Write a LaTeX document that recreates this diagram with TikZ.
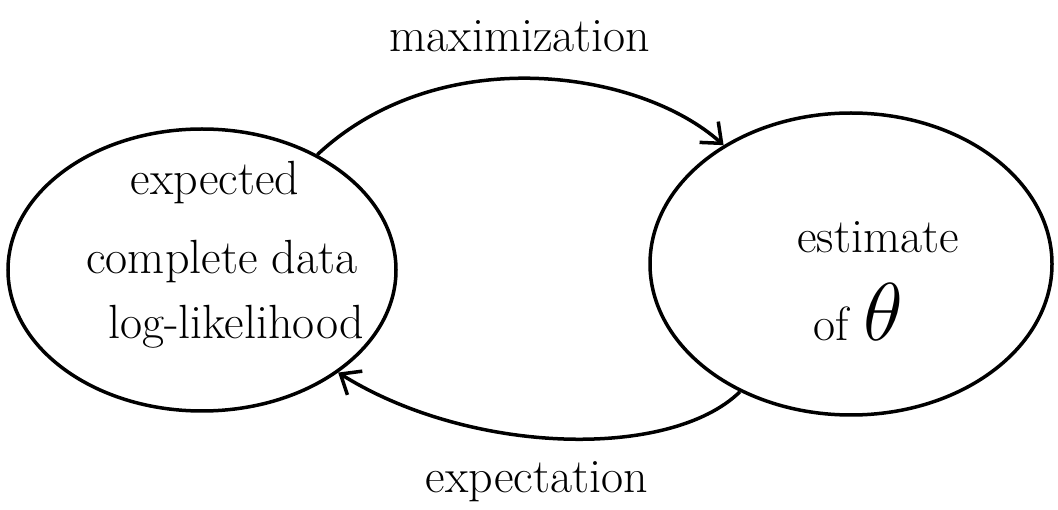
\documentclass[tikz,border=0pt]{standalone}
\usepackage{graphicx}
\usetikzlibrary{arrows.meta,shapes.geometric}
\begin{document}
\begin{tikzpicture}[x=1pt,y=-1pt,
  blob/.style={draw, ellipse, line width=3.5pt, inner sep=0pt},
  flow/.style={line width=3.5pt, -{Straight Barb[length=17pt,width=28pt,line width=3.5pt]}},
  lbl/.style={font=\fontsize{48}{54}\selectfont, inner sep=0pt, align=center}]
\useasboundingbox (0,0) rectangle (1058,510);
\node[blob, minimum width=388pt, minimum height=282pt] (L) at (202,270) {};
\node[blob, minimum width=402pt, minimum height=302pt] (R) at (851,264) {};
\node[lbl] (lt1) at (215,183) {expected};
\node[lbl] (lt2) at (222,262) {complete data};
\node[lbl] (lt3) at (236,327) {log-likelihood};
\node[lbl] (rt1) at (878,237) {estimate};
\node[lbl] (rt2) at (858,312) {of \scalebox{3.3}{$\theta$}};
\node[lbl] (mx) at (520,36) {maximization};
\node[lbl] (ex) at (537,482) {expectation};
\draw[flow] (L.45) .. controls (440,40) and (640,70) .. (R.137);
\draw[flow] (R.-131) .. controls (670,460) and (470,455) .. (L.-37);
\end{tikzpicture}
\end{document}
